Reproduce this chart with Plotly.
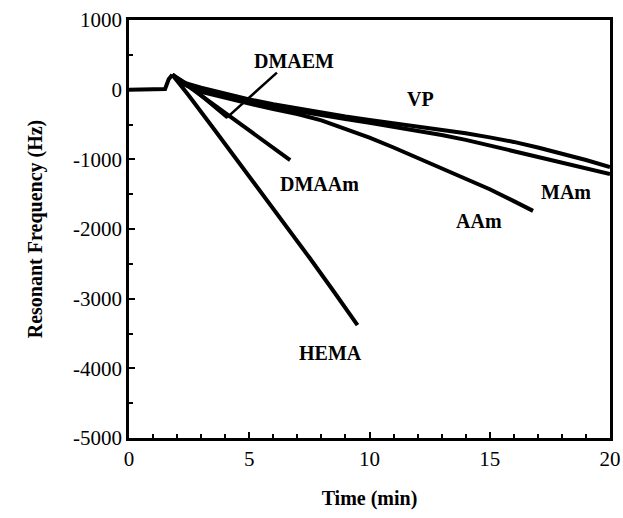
import plotly.graph_objects as go

# Baseline before injection
base_t = [0, 0.5, 1.0, 1.5, 1.65, 1.8]
base_f = [0, 0, 0, 10, 150, 215]

hema_t = [1.8, 2.5, 3.5, 4.5, 5.5, 6.5, 7.5, 8.5, 9.5]
hema_f = [215, -90, -550, -1010, -1470, -1940, -2410, -2890, -3380]

dmaam_t = [1.8, 2.5, 3.5, 4.5, 5.5, 6.7]
dmaam_f = [215, 40, -210, -460, -710, -1010]

dmaem_t = [1.8, 2.5, 3.2, 4.1]
dmaem_f = [215, 60, -140, -400]

vp_t = [1.8, 2.1, 3, 4, 5, 6, 7, 8, 9, 10, 11, 12, 13, 14, 15, 16, 17, 18, 19, 20]
vp_f = [215, 120, 30, -60, -140, -210, -270, -330, -385, -435, -480, -525, -570, -625, -685, -750, -830, -915, -1010, -1110]

mam_t = [1.8, 2.1, 3, 4, 5, 6, 7, 8, 9, 10, 11, 12, 13, 14, 15, 16, 17, 18, 19, 20]
mam_f = [215, 110, 10, -90, -180, -250, -310, -370, -420, -475, -530, -590, -650, -720, -800, -880, -960, -1040, -1120, -1210]

aam_t = [1.8, 2.1, 3, 4, 5, 6, 7, 8, 9, 10, 11, 12, 13, 14, 15, 16, 16.8]
aam_f = [215, 100, -30, -120, -200, -280, -350, -440, -560, -690, -830, -980, -1130, -1280, -1430, -1600, -1740]

x_ticks = [0, 5, 10, 15, 20]
y_ticks = [1000, 0, -1000, -2000, -3000, -4000, -5000]

series = [
    (base_t, base_f), (hema_t, hema_f), (dmaam_t, dmaam_f), (dmaem_t, dmaem_f),
    (vp_t, vp_f), (mam_t, mam_f), (aam_t, aam_f),
]

labels = [
    ("DMAEM", 6.86, 410), ("VP", 12.1, -140), ("DMAAm", 7.94, -1360),
    ("MAm", 18.15, -1463), ("AAm", 14.55, -1890), ("HEMA", 8.36, -3773),
]

FONT = "Liberation Serif"

fig = go.Figure()
for t, f in series:
    fig.add_trace(go.Scatter(x=t, y=f, mode="lines",
                             line=dict(color="black", width=4),
                             showlegend=False, hoverinfo="skip"))

for text, x, y in labels:
    fig.add_annotation(x=x, y=y, text=f"<b>{text}</b>", showarrow=False,
                       font=dict(family=FONT, size=20, color="black"),
                       xanchor="center", yanchor="middle")

# pointer line from DMAEM label to curve end
fig.add_shape(type="line", x0=6.15, y0=244, x1=4.07, y1=-402,
              line=dict(color="black", width=2.5))

axis_common = dict(
    showgrid=False, zeroline=False, showline=True, linecolor="black", linewidth=2.5,
    mirror=True, ticks="inside", tickcolor="black", tickwidth=2, ticklen=6,
    tickfont=dict(family=FONT, size=21, color="black"), automargin=False,
)

fig.update_xaxes(range=[0, 20], tickvals=x_ticks, ticktext=[str(v) for v in x_ticks],
                 minor=dict(ticks="inside", dtick=1, ticklen=4, tickwidth=2, tickcolor="black"),
                 title=dict(text="<b>Time (min)</b>", font=dict(family=FONT, size=20, color="black"), standoff=22),
                 **axis_common)
fig.update_yaxes(range=[-5000, 1000], tickvals=y_ticks, ticktext=[str(v) for v in y_ticks],
                 minor=dict(ticks="inside", dtick=500, ticklen=4, tickwidth=2, tickcolor="black"),
                 title=dict(text="<b>Resonant Frequency (Hz)</b>", font=dict(family=FONT, size=20, color="black"), standoff=26),
                 **axis_common)

fig.update_layout(width=623, height=518, margin=dict(l=129, r=13, t=20, b=80),
                  plot_bgcolor="white", paper_bgcolor="white")

fig.write_html("out.html")
